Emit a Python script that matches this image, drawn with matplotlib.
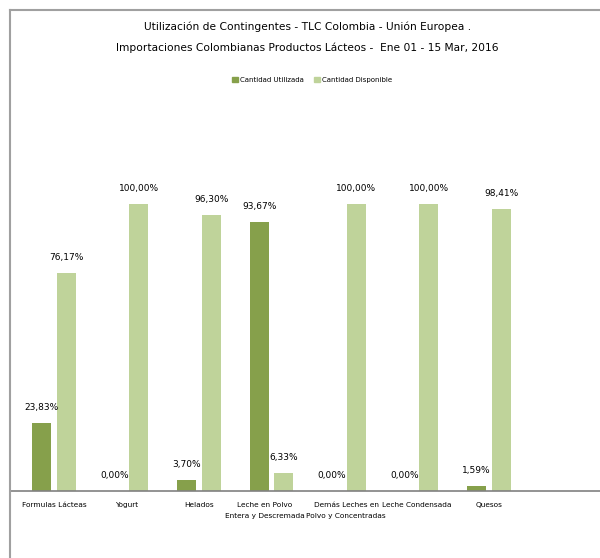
import matplotlib.pyplot as plt
import matplotlib.transforms as mtransforms
from matplotlib.lines import Line2D
from matplotlib.patches import Patch

categorias = ['Formulas Lácteas', 'Yogurt', 'Helados', 'Leche en Polvo\nEntera y Descremada',
              'Demás Leches en\nPolvo y Concentradas', 'Leche Condensada', 'Quesos']
utilizada = [23.83, 0.00, 3.70, 93.67, 0.00, 0.00, 1.59]
disponible = [76.17, 100.00, 96.30, 6.33, 100.00, 100.00, 98.41]

c_util = '#86a04b'
c_disp = '#bfd39a'

plt.rcParams['font.family'] = ['DejaVu Sans']

fig = plt.figure(figsize=(6, 5.58), dpi=100)
W, H = 600, 558
ax = fig.add_axes([10 / W, 67 / H, 590 / W, 344 / H])

x = list(range(len(categorias)))
w = 0.26
off = 0.17
ax.bar([i - off for i in x], utilizada, width=w, color=c_util)
ax.bar([i + off for i in x], disponible, width=w, color=c_disp)

def fmt(v):
    return f'{v:.2f}'.replace('.', ',') + '%'

for i in x:
    ax.annotate(fmt(utilizada[i]), (i - off, utilizada[i]), xytext=(0, 8),
                textcoords='offset points', ha='center', va='bottom', fontsize=6.5)
    ax.annotate(fmt(disponible[i]), (i + off, disponible[i]), xytext=(0, 8),
                textcoords='offset points', ha='center', va='bottom', fontsize=6.5)

ax.set_xlim(-0.607, 7.53)
ax.set_ylim(0, 120)
ax.set_yticks([])
ax.set_xticks(x)
ax.set_xticklabels(categorias, fontsize=5.3, linespacing=2.0)
ax.tick_params(axis='x', length=0, pad=8)
# separar un poco las dos etiquetas de dos lineas
labs = ax.get_xticklabels()
for lab, dx in [(labs[3], -7), (labs[4], 2)]:
    lab.set_transform(lab.get_transform() +
                      mtransforms.ScaledTranslation(dx / 100, 0, fig.dpi_scale_trans))
for s in ['top', 'right', 'left']:
    ax.spines[s].set_visible(False)
ax.spines['bottom'].set_color('#808080')
ax.spines['bottom'].set_linewidth(1.2)

# marco del grafico
fig.add_artist(Line2D([10 / W, 10 / W], [0, 1 - 10 / H], color='#a0a0a0', lw=1.5,
                      transform=fig.transFigure))
fig.add_artist(Line2D([10 / W, 1], [1 - 10 / H, 1 - 10 / H], color='#a0a0a0', lw=1.5,
                      transform=fig.transFigure))

fig.text(0.512, 1 - 27 / H, 'Utilización de Contingentes - TLC Colombia - Unión Europea .',
         ha='center', va='center', fontsize=7.7)
fig.text(0.512, 1 - 48 / H, 'Importaciones Colombianas Productos Lácteos -  Ene 01 - 15 Mar, 2016',
         ha='center', va='center', fontsize=7.7)

handles = [Patch(color=c_util, label='Cantidad Utilizada'),
           Patch(color=c_disp, label='Cantidad Disponible')]
fig.legend(handles=handles, loc='center', bbox_to_anchor=(0.52, 1 - 80 / H), ncol=2,
           frameon=False, prop={'size': 5}, handlelength=0.8,
           handleheight=0.8, handletextpad=0.3, columnspacing=1.5)

fig.savefig('out.png', dpi=100)
